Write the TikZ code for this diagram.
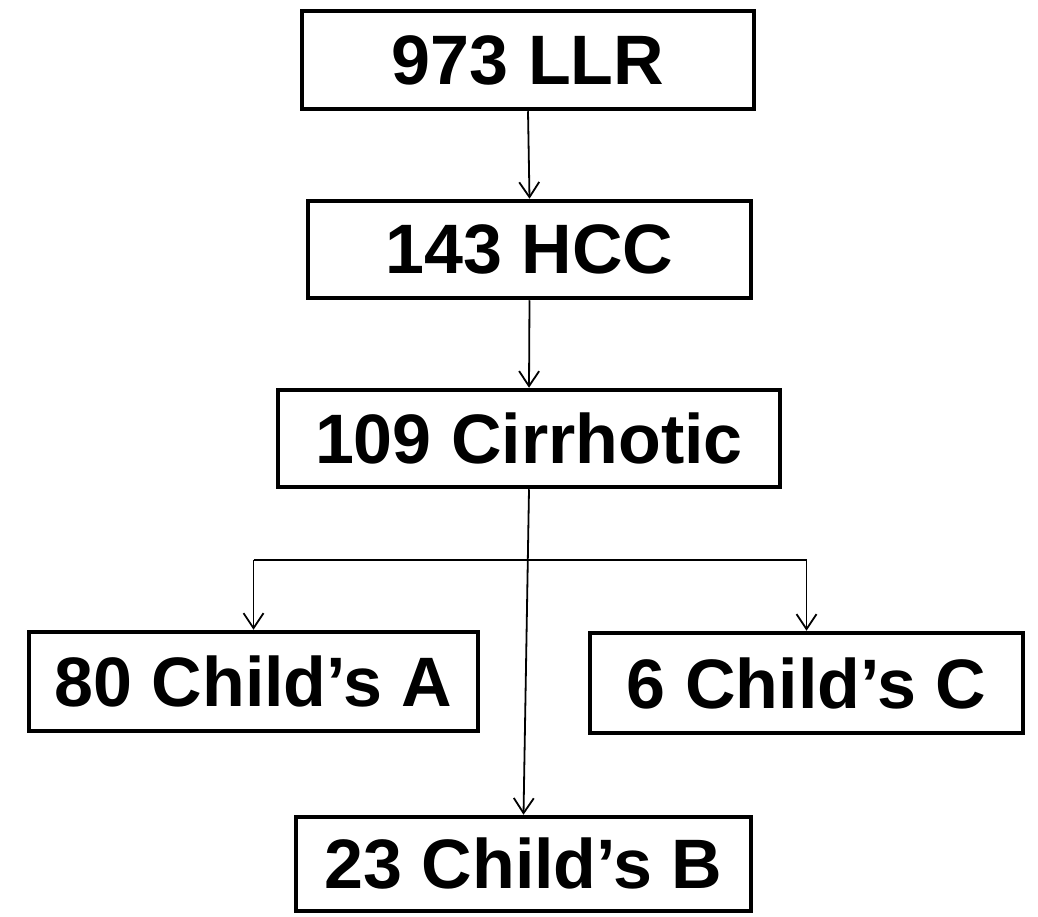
\documentclass[tikz,border=0pt]{standalone}
\usepackage{fontspec}
\setmainfont{Liberation Sans}
\usetikzlibrary{arrows.meta}
\begin{document}
\begin{tikzpicture}[x=1pt,y=-1pt,
  box/.style={draw=black,line width=4.5pt,rectangle,inner sep=0pt,
    font=\fontsize{70}{84}\selectfont\bfseries},
  conn/.style={draw=black,line width=1.8pt},
  arr/.style={conn,-{Straight Barb[length=15pt,width=20pt,line width=1.8pt]}}]
\useasboundingbox (0,0) rectangle (1038,917);
\node[box,minimum width=452pt,minimum height=98pt] (b1) at (528,60) {973 LLR};
\node[box,minimum width=443pt,minimum height=97pt] (b2) at (529.5,249.5) {143 HCC};
\node[box,minimum width=502pt,minimum height=97pt] (b3) at (529,438.5) {109 Cirrhotic};
\node[box,minimum width=449pt,minimum height=99pt] (b4) at (253.5,681.5) {80 Child’s A};
\node[box,minimum width=433pt,minimum height=100pt] (b5) at (806.5,683) {6 Child’s C};
\node[box,minimum width=455pt,minimum height=94pt] (b6) at (523.5,864) {23 Child’s B};
\coordinate (hl) at (253.5,560);
\coordinate (hr) at (806.5,560);
\draw[arr] (b1.south) -- (b2.north);
\draw[arr] (b2.south) -- (b3.north);
\draw[arr] (b3.south) -- (b6.north);
\draw[conn] (hl) -- (hr);
\draw[arr] (hl) -- (b4.north);
\draw[arr] (hr) -- (b5.north);
\end{tikzpicture}
\end{document}
